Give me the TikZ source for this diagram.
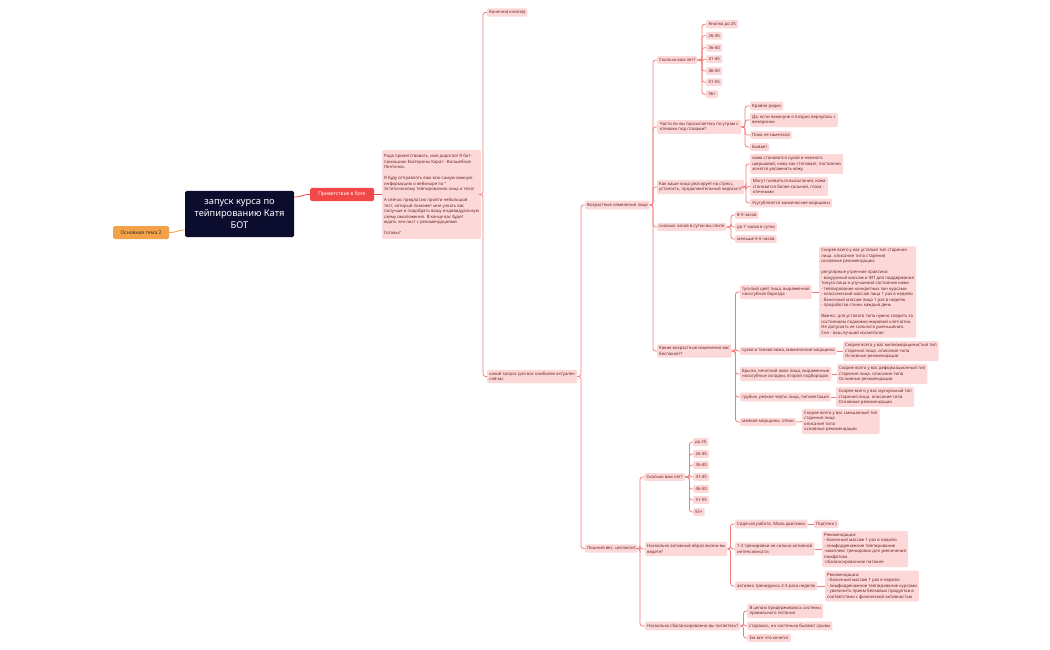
\documentclass[tikz,border=0pt]{standalone}
\usepackage{fontspec}
\setmainfont{Noto Sans}
\definecolor{pinkfill}{HTML}{FDD8D8}
\definecolor{linec}{HTML}{F27C7C}
\definecolor{textc}{HTML}{6A2626}
\definecolor{rootc}{HTML}{0B0C2E}
\definecolor{orangec}{HTML}{F4A24A}
\definecolor{redc}{HTML}{F24848}
\tikzset{
  leaf/.style={fill=pinkfill, rounded corners=1.2pt, inner xsep=2pt, inner ysep=2.3pt,
    font=\fontsize{4.3}{5.5}\selectfont, text=textc, align=left, anchor=west},
  mw/.style={minimum width=#1pt},
  conn/.style={draw=linec, line width=0.8pt, rounded corners=2.5pt},
}
\begin{document}
\begin{tikzpicture}[x=1pt,y=-1pt]
\useasboundingbox (0,0) rectangle (1050,650);
\fill[white] (0,0) rectangle (1050,650);

% bus coordinates
\coordinate (bA) at (483,0);
\coordinate (bB) at (581,0);
\coordinate (bC) at (653,0);
\coordinate (bD) at (702,0);
\coordinate (bE) at (745,0);
\coordinate (bF) at (746,0);
\coordinate (bG) at (731,0);
\coordinate (bH) at (735.5,0);
\coordinate (bI) at (640,0);
\coordinate (bJ) at (689.5,0);
\coordinate (bK) at (730.5,0);
\coordinate (bL) at (743.5,0);

% main nodes
\node[fill=rootc, rounded corners=1.5pt, minimum width=109pt, minimum height=46pt, inner sep=0pt,
  text=white, font=\fontsize{9.3}{12}\selectfont, align=center] (root) at (239.5,214)
  {запуск курса по\\тейпированию Катя\\БОТ};
\node[fill=orangec, rounded corners=1.5pt, minimum width=56pt, minimum height=13pt, inner sep=0pt,
  text=black!80, font=\fontsize{5}{6}\selectfont] (theme) at (141,232.5) {Основная тема 2};
\node[fill=redc, rounded corners=1.5pt, minimum width=64pt, minimum height=13pt, inner sep=0pt,
  text=white, font=\fontsize{5}{6}\selectfont] (greet) at (342,194.5) {Приветствие в боте};

\node[leaf, mw=97, inner ysep=4.3pt] (gtext) at (382,194.5)
 {Рада приветствовать, моя дорогая! Я бот-\\
  помощник Екатерины Карат - Волшебная\\
  Ленточка.\\[5.5pt]
  Я буду отправлять вам всю самую важную\\
  информацию о вебинаре по "\\
  Эстетическому тейпированию лица и тела!\\[5.5pt]
  А сейчас предлагаю пройти небольшой\\
  тест, который поможет мне узнать вас\\
  получше и подобрать вашу индивидуальную\\
  схему омоложения. В конце вас будет\\
  ждать чек-лист с рекомендациями.\\[5.5pt]
  Готовы?};

\node[leaf, mw=40] (kon) at (487,12.5) {Конечно( кнопка)};
\node[leaf, mw=90] (zap) at (487,376.5) {какой запрос для вас наиболее актуален\\сейчас};
\node[leaf, mw=64] (vozr) at (585,205) {Возрастные изменения лица};
\node[leaf, mw=50] (ves) at (585,548.5) {Лишний вес, целлюлит};

% age group 1
\node[leaf, mw=40] (age1) at (657,60) {Сколько вам лет?};
\node[leaf, mw=32] (a1) at (706,24.3) {Кнопка до 25};
\node[leaf, mw=16] (a2) at (706,35.7) {26-35};
\node[leaf, mw=16] (a3) at (706,47.7) {36-40};
\node[leaf, mw=16] (a4) at (706,59.3) {41-45};
\node[leaf, mw=16] (a5) at (706,71) {46-50};
\node[leaf, mw=16] (a6) at (706,82.3) {51-55};
\node[leaf, mw=12] (a7) at (706,94.3) {56+};

% edema
\node[leaf, mw=84] (otek) at (657,127) {Часто ли вы просыпаетесь по утрам с\\отеками под глазами?};
\node[leaf, mw=31] (ot1) at (750,106) {Крайне редко};
\node[leaf, mw=87] (ot2) at (750,120) {Да, если накануне я поздно вернулась с\\вечеринки};
\node[leaf, mw=39] (ot3) at (750,135) {Пока не замечала};
\node[leaf, mw=18] (ot4) at (750,147) {Бывает};

% stress
\node[leaf, mw=86] (stress) at (657,187) {Как ваше лицо реагирует на стресс,\\усталость, продолжительный недосып?};
\node[leaf, mw=93] (st1) at (750,164) {кожа становится сухой и немного\\шершавой, кожу как стягивает, постоянно\\хочется увлажнить кожу};
\node[leaf, mw=78] (st2) at (750,186.5) {Могут появиться высыпания, кожа\\становится более сальной, глаза -\\отечными};
\node[leaf, mw=80] (st3) at (750,203) {Усугубляются мимические морщины};

% sleep
\node[leaf, mw=69] (sleep) at (657,227) {сколько часов в сутки вы спите};
\node[leaf, mw=23] (sl1) at (735,215) {8-9 часов};
\node[leaf, mw=40] (sl2) at (735,227) {до 7 часов в сутки};
\node[leaf, mw=39] (sl3) at (735,239) {меньше 5-6 часов};

% age changes
\node[leaf, mw=74] (izm) at (657,351) {Какие возрастные изменения вас\\беспокоят?};
\node[leaf, mw=71] (iz1) at (740,292) {тусклый цвет лица, выраженная\\носогубная борозда};
\node[leaf, mw=93] (iz2) at (740,351) {сухая и тонкая кожа, мимические морщины};
\node[leaf, mw=89] (iz3) at (740,374) {Брыли, нечеткий овал лица, выраженные\\носогубные складки, второй подбородок};
\node[leaf, mw=88] (iz4) at (740,397) {грубые, резкие черты лица, пигментация};
\node[leaf, mw=53] (iz5) at (740,422) {мелкие морщины, отеки};

\node[leaf, mw=97] (r1) at (819,292)
 {Скорее всего у вас усталый тип старения\\
  лица. описание типа старения\\
  основные рекомендации:\\[5.5pt]
  регулярные утренние практики:\\
  - вакуумный массаж и ФП для поддержания\\
  тонуса лица и улучшения состояния кожи\\
  - тейпирование конкретных зон курсами\\
  - классический массаж лица 1 раз в неделю\\
  - баночный массаж лица 1 раз в неделю\\
  - проработка спины каждый день\\[5.5pt]
  Важно: для усталого типа нужно следить за\\
  состоянием подкожно-жировой клетчатки.\\
  Не допускать ее сильного уменьшения.\\
  Сон - ваш лучший косметолог.};
\node[leaf, mw=94] (r2) at (843,351) {Скорее всего у вас мелкоморщинистый тип\\старения лица. описание типа\\Основные рекомендации};
\node[leaf, mw=90] (r3) at (837,374) {Скорее всего у вас деформационный тип\\старения лица. описание типа\\Основные рекомендации};
\node[leaf, mw=78] (r4) at (836,397) {Скорее всего у вас мускульный тип\\старения лица. описание типа\\Основные рекомендации};
\node[leaf, mw=77] (r5) at (802,421.5) {Скорее всего у вас смешанный тип\\старения лица\\описание типа\\основные рекомендации};

% age group 2
\node[leaf, mw=41] (age2) at (644,477) {Сколько вам лет?};
\node[leaf, mw=15] (b1) at (693,442) {до 25};
\node[leaf, mw=16] (b2) at (693,454) {26-35};
\node[leaf, mw=16] (b3) at (693,465) {36-40};
\node[leaf, mw=16] (b4) at (693,477) {41-45};
\node[leaf, mw=16] (b5) at (693,489) {46-50};
\node[leaf, mw=16] (b6) at (693,500) {51-55};
\node[leaf, mw=11] (b7) at (693,512) {55+};

% activity
\node[leaf, mw=80] (act) at (645,549) {Насколько активный образ жизни вы\\ведете?};
\node[leaf, mw=69] (ac1) at (735,524) {Сидячая работа. Мало двигаюсь};
\node[leaf, mw=19] (p1) at (814,524) {Подтяни )};
\node[leaf, mw=78] (ac2) at (735,549) {1-2 тренировки не сильно активной\\интенсивности};
\node[leaf, mw=85] (rec1) at (822,549) {Рекомендации:\\- баночный массаж 1 раз в неделю\\- лимфодренажное тейпирование\\-комплекс тренировок для увеличения\\лимфотока\\-сбалансированное питание};
\node[leaf, mw=80] (ac3) at (735,586) {активно тренируюсь 2-3 раза неделю};
\node[leaf, mw=92] (rec2) at (825,586) {Рекомендации:\\- баночный массаж 1 раз в неделю\\- лимфодренажное тейпирование курсами\\- увеличить прием белковых продуктов в\\соответствии с физической активностью};

% food
\node[leaf, mw=95] (food) at (645,626) {Насколько сбалансированно вы питаетесь?};
\node[leaf, mw=76] (f1) at (747,611) {В целом придерживаюсь системы\\правильного питания};
\node[leaf, mw=85] (f2) at (747,626) {стараюсь, но частенько бывают срывы};
\node[leaf, mw=44] (f3) at (747,638) {Ем все что хочется};

% connectors
\draw[draw=orangec, line width=0.8pt] (theme.east) .. controls +(8,0) and +(-8,0) .. ([yshift=-16pt]root.west);
\draw[draw=redc, line width=0.8pt] ([yshift=17pt]root.east) .. controls +(8,0) and +(-8,0) .. (greet.west);
\draw[draw=redc, line width=0.8pt] (greet.east) -- (gtext.west);

\foreach \c in {kon,zap} \draw[conn] (gtext.east) -- (gtext.east -| bA) |- (\c.west);
\foreach \c in {vozr,ves} \draw[conn] (zap.east) -- (zap.east -| bB) |- (\c.west);
\foreach \c in {age1,otek,stress,sleep,izm} \draw[conn] (vozr.east) -- (vozr.east -| bC) |- (\c.west);
\foreach \c in {a1,a2,a3,a4,a5,a6,a7} \draw[conn] (age1.east) -- (age1.east -| bD) |- (\c.west);
\foreach \c in {ot1,ot2,ot3,ot4} \draw[conn] (otek.east) -- (otek.east -| bE) |- (\c.west);
\foreach \c in {st1,st2,st3} \draw[conn] (stress.east) -- (stress.east -| bF) |- (\c.west);
\foreach \c in {sl1,sl2,sl3} \draw[conn] (sleep.east) -- (sleep.east -| bG) |- (\c.west);
\foreach \c in {iz1,iz2,iz3,iz4,iz5} \draw[conn] (izm.east) -- (izm.east -| bH) |- (\c.west);
\draw[conn] (iz1.east) -- (r1.west);
\draw[conn] (iz2.east) -- (r2.west);
\draw[conn] (iz3.east) -- (r3.west);
\draw[conn] (iz4.east) -- (r4.west);
\draw[conn] (iz5.east) -- (r5.west);
\foreach \c in {age2,act,food} \draw[conn] (ves.east) -- (ves.east -| bI) |- (\c.west);
\foreach \c in {b1,b2,b3,b4,b5,b6,b7} \draw[conn] (age2.east) -- (age2.east -| bJ) |- (\c.west);
\foreach \c in {ac1,ac2,ac3} \draw[conn] (act.east) -- (act.east -| bK) |- (\c.west);
\draw[conn] (ac1.east) -- (p1.west);
\draw[conn] (ac2.east) -- (rec1.west);
\draw[conn] (ac3.east) -- (rec2.west);
\foreach \c in {f1,f2,f3} \draw[conn] (food.east) -- (food.east -| bL) |- (\c.west);
\end{tikzpicture}
\end{document}
